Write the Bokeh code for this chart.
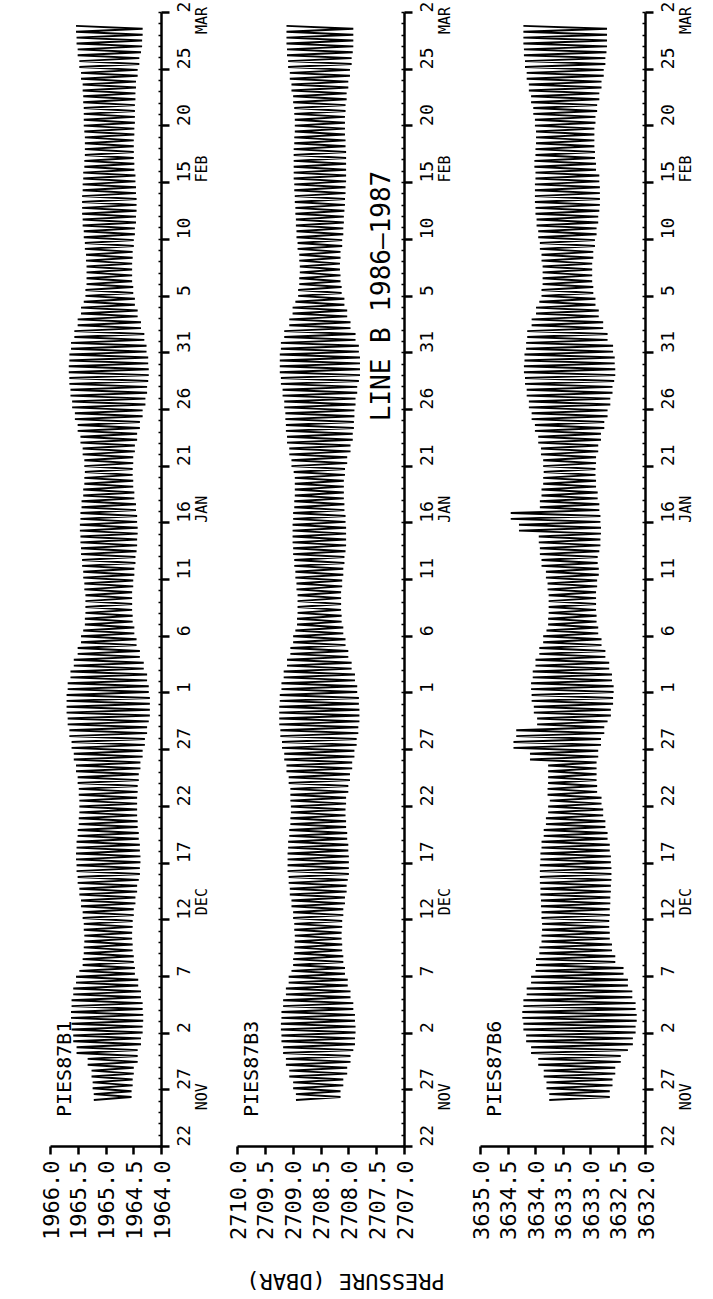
import numpy as np
from math import pi
from bokeh.plotting import figure
from bokeh.models import Range1d, LinearAxis, FixedTicker, Label, NumeralTickFormatter
from bokeh.layouts import row, column
from bokeh.embed import file_html
from bokeh.resources import INLINE

# ---- time axis: days after 22 NOV 1986 ----
day_ticks = list(range(0, 101, 5))
day_labels = ["22", "27", "2", "7", "12", "17", "22", "27", "1", "6", "11",
              "16", "21", "26", "31", "5", "10", "15", "20", "25", "2"]
month_days = [3.2, 20.4, 55.0, 85.0, 98.1]
month_names = ["NOV", "DEC", "JAN", "FEB", "MAR"]

# ---- pressure axes ----
b1_ticks = [1966.0, 1965.5, 1965.0, 1964.5, 1964.0]
b3_ticks = [2710.0, 2709.5, 2709.0, 2708.5, 2708.0, 2707.5, 2707.0]
b6_ticks = [3635.0, 3634.5, 3634.0, 3633.5, 3633.0, 3632.5, 3632.0]

# ---- daily mean level and tidal half-range read from the record (days 4..98) ----
first_day = 4
b1_mid = [1964.88] * 4 + [1964.98] * 8 + [1964.96] * 25 + [1964.95] * 30 + [1964.94] * 28
b1_half = [0.34, 0.36, 0.38, 0.45, 0.55, 0.61, 0.64, 0.65, 0.64, 0.61,
           0.56, 0.50, 0.46, 0.44, 0.43, 0.44, 0.46, 0.49, 0.52, 0.55,
           0.57, 0.58, 0.57, 0.55, 0.53, 0.52, 0.52, 0.53, 0.55, 0.58,
           0.62, 0.66, 0.70, 0.73, 0.75, 0.75, 0.73, 0.69, 0.63, 0.56,
           0.50, 0.46, 0.43, 0.42, 0.42, 0.44, 0.46, 0.48, 0.50, 0.51,
           0.52, 0.51, 0.49, 0.46, 0.44, 0.43, 0.44, 0.47, 0.51, 0.56,
           0.61, 0.66, 0.69, 0.71, 0.72, 0.71, 0.68, 0.63, 0.57, 0.51,
           0.46, 0.43, 0.41, 0.41, 0.42, 0.44, 0.46, 0.48, 0.49, 0.49,
           0.48, 0.47, 0.45, 0.44, 0.44, 0.45, 0.46, 0.46, 0.47, 0.48,
           0.51, 0.54, 0.57, 0.59, 0.60]
b3_mid = [2708.55] * 27 + [2708.53] * 30 + [2708.52] * 38
b3_half = [0.40, 0.45, 0.52, 0.58, 0.63, 0.66, 0.67, 0.66, 0.63, 0.58,
           0.53, 0.48, 0.45, 0.43, 0.42, 0.43, 0.45, 0.48, 0.51, 0.53,
           0.55, 0.55, 0.54, 0.52, 0.50, 0.49, 0.50, 0.52, 0.55, 0.59,
           0.63, 0.67, 0.70, 0.72, 0.72, 0.71, 0.68, 0.64, 0.58, 0.52,
           0.47, 0.43, 0.40, 0.39, 0.39, 0.41, 0.43, 0.45, 0.47, 0.48,
           0.48, 0.47, 0.45, 0.44, 0.44, 0.46, 0.50, 0.55, 0.59, 0.61,
           0.62, 0.64, 0.67, 0.70, 0.72, 0.72, 0.70, 0.64, 0.55, 0.49,
           0.44, 0.39, 0.37, 0.36, 0.37, 0.40, 0.42, 0.43, 0.44, 0.45,
           0.46, 0.47, 0.47, 0.47, 0.46, 0.45, 0.45, 0.46, 0.48, 0.51,
           0.54, 0.57, 0.59, 0.60, 0.60]
b6_mid = [3633.20] * 12 + [3633.27] * 15 + [3633.33] * 20 + [3633.38] * 20 + [3633.42] * 15 + [3633.46] * 13
b6_half = [0.55, 0.60, 0.65, 0.75, 0.88, 0.97, 1.02, 1.04, 1.02, 0.96,
           0.88, 0.80, 0.72, 0.66, 0.62, 0.61, 0.62, 0.63, 0.64, 0.65,
           0.65, 0.64, 0.62, 0.58, 0.54, 0.50, 0.47, 0.45, 0.44, 0.44,
           0.47, 0.52, 0.58, 0.64, 0.70, 0.74, 0.75, 0.72, 0.67, 0.60,
           0.53, 0.47, 0.44, 0.43, 0.43, 0.45, 0.48, 0.51, 0.54, 0.56,
           0.57, 0.56, 0.54, 0.51, 0.48, 0.47, 0.48, 0.52, 0.57, 0.63,
           0.69, 0.74, 0.78, 0.81, 0.83, 0.82, 0.79, 0.73, 0.65, 0.57,
           0.51, 0.47, 0.45, 0.45, 0.47, 0.50, 0.53, 0.56, 0.58, 0.59,
           0.59, 0.58, 0.56, 0.54, 0.53, 0.53, 0.55, 0.58, 0.62, 0.66,
           0.70, 0.73, 0.75, 0.76, 0.76]
# isolated high-pressure excursions in PIES87B6 (day, peak pressure)
b6_spike_days = [34, 35, 36, 54, 55]
b6_spike_high = [3634.10, 3634.40, 3634.35, 3634.30, 3634.45]

HALF_TIDE = 0.2588  # days between successive high and low water (M2 / 2)
FONT = "DejaVu Sans Mono"


def tide_series(mid, half, first, spike_days=(), spike_high=()):
    n_days = len(mid)
    hi = np.asarray(mid) + np.asarray(half)
    lo = np.asarray(mid) - np.asarray(half)
    for d, h in zip(spike_days, spike_high):
        hi[d - first] = h
    t = first + 0.1 + np.arange(int(n_days / HALF_TIDE)) * HALF_TIDE
    t = t[t < first + n_days]
    idx = (t - first).astype(int)
    v = np.where(np.arange(len(t)) % 2 == 0, hi[idx], lo[idx])
    return t, v


FRAME_H = 1134
TOP = 12
HEIGHT = 1262


def make_panel(ticks, series, name, frame_w, left, right):
    f = figure(width=left + frame_w + right, height=HEIGHT,
               x_range=Range1d(ticks[0], ticks[-1]), y_range=Range1d(0, 100),
               x_axis_location=None, y_axis_location=None,
               output_backend="svg", toolbar_location=None,
               min_border_left=left, min_border_right=right,
               min_border_top=TOP, min_border_bottom=HEIGHT - TOP - FRAME_H)
    f.outline_line_color = None
    f.grid.visible = False

    xa = LinearAxis(ticker=FixedTicker(ticks=ticks, minor_ticks=[]),
                    formatter=NumeralTickFormatter(format="0.0"),
                    major_label_orientation=pi / 2,
                    major_label_text_font=FONT, major_label_text_font_size="22px",
                    major_label_text_color="black", major_label_standoff=6,
                    axis_line_width=2.5, axis_line_color="black",
                    major_tick_out=8, major_tick_in=0, major_tick_line_width=2.5,
                    minor_tick_out=0, minor_tick_in=0)
    f.add_layout(xa, "below")

    ya = LinearAxis(ticker=FixedTicker(ticks=day_ticks, minor_ticks=list(range(0, 101))),
                    major_label_overrides={t: s for t, s in zip(day_ticks, day_labels)},
                    major_label_orientation=pi / 2,
                    major_label_text_font=FONT, major_label_text_font_size="18px",
                    major_label_text_color="black", major_label_standoff=14,
                    axis_line_width=2.5, axis_line_color="black",
                    major_tick_out=8, major_tick_in=0, major_tick_line_width=2.5,
                    minor_tick_out=0, minor_tick_in=3, minor_tick_line_width=1.5,
                    minor_tick_line_color="black")
    f.add_layout(ya, "right")

    ma = LinearAxis(ticker=FixedTicker(ticks=month_days, minor_ticks=[]),
                    major_label_overrides={t: s for t, s in zip(month_days, month_names)},
                    major_label_orientation=pi / 2,
                    major_label_text_font=FONT, major_label_text_font_size="15px",
                    major_label_text_color="black", major_label_standoff=-3,
                    axis_line_color=None, major_tick_line_color=None,
                    minor_tick_line_color=None)
    f.add_layout(ma, "right")

    t, v = series
    f.line(v, t, line_color="black", line_width=1.9)

    f.add_layout(Label(x=ticks[0], y=2.6, x_offset=1, text=name, angle=pi / 2,
                       text_font=FONT, text_font_size="20px", text_color="black",
                       text_align="left", text_baseline="top"))
    return f


f1 = make_panel(b1_ticks, tide_series(b1_mid, b1_half, first_day), "PIES87B1", 111, 50, 62)
f2 = make_panel(b3_ticks, tide_series(b3_mid, b3_half, first_day), "PIES87B3", 167, 14, 62)
f3 = make_panel(b6_ticks, tide_series(b6_mid, b6_half, first_day, b6_spike_days, b6_spike_high),
                "PIES87B6", 167, 14, 60)

f2.add_layout(Label(x=2707.42, y=75.0, text="LINE B 1986\u20131987", angle=pi / 2,
                    text_font=FONT, text_font_size="26px", text_color="black",
                    text_align="center", text_baseline="middle"))

TOTAL_W = 50 + 111 + 62 + 14 + 167 + 62 + 14 + 167 + 60
fl = figure(width=TOTAL_W, height=36, x_range=Range1d(0, TOTAL_W), y_range=Range1d(0, 36),
            x_axis_location=None, y_axis_location=None,
            output_backend="svg", toolbar_location=None, min_border=0)
fl.outline_line_color = None
fl.grid.visible = False
fl.add_layout(Label(x=345, y=17, text="PRESSURE (DBAR)", angle=pi,
                    text_font=FONT, text_font_size="22px", text_color="black",
                    text_align="center", text_baseline="middle"))

layout = column(row(f1, f2, f3), fl)
open("out.html", "w").write(file_html(layout, INLINE))
